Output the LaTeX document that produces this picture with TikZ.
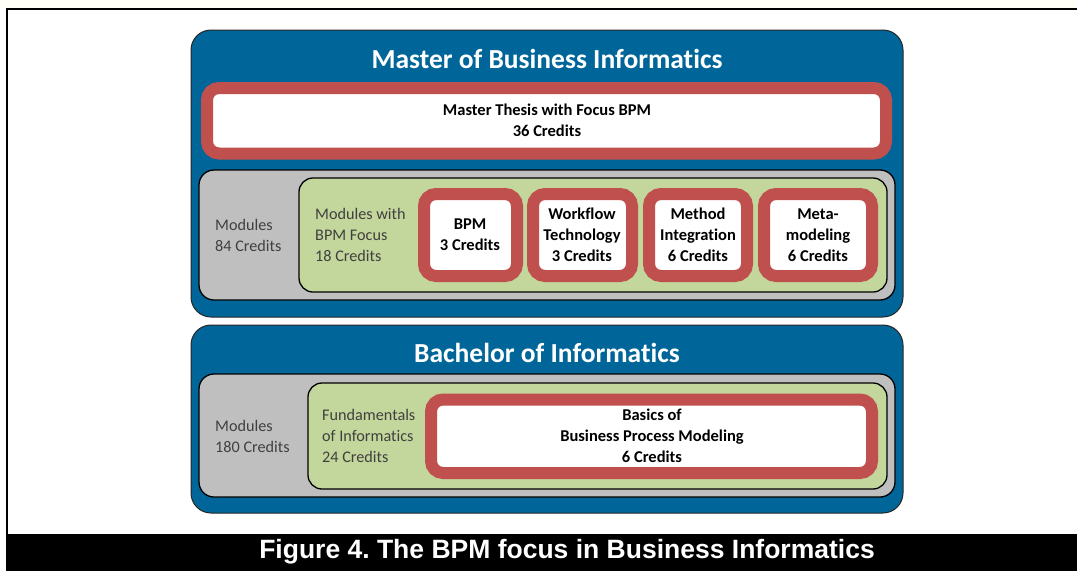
\documentclass[tikz,border=0pt]{standalone}
\usepackage{fontspec}
\setmainfont{Carlito}[Ligatures=CommonOff]
\newfontfamily\capfont{Liberation Sans}
\definecolor{degreeblue}{RGB}{0,102,153}
\definecolor{modgray}{RGB}{191,191,191}
\definecolor{focusgreen}{RGB}{195,214,155}
\definecolor{ringred}{RGB}{192,80,77}
\definecolor{paper}{RGB}{255,255,247}
\frenchspacing
\begin{document}
\begin{tikzpicture}[x=1pt,y=-1pt,
	degree/.style={draw=black!85,fill=degreeblue,line width=1pt,rounded corners=20pt},
	modbox/.style={draw=black,fill=modgray,line width=1.3pt,rounded corners=15pt},
	focusbox/.style={draw=black,fill=focusgreen,line width=1.3pt,rounded corners=14pt},
	ring/.style={draw=ringred,fill=white,line width=12pt,rounded corners=12pt},
	title/.style={text=white,font=\fontsize{27.5}{33}\selectfont\bfseries},
	info/.style={align=left,anchor=west,inner sep=0pt,text=black!75,font=\fontsize{16.2}{21}\selectfont},
	course/.style={align=center,inner sep=0pt,font=\fontsize{16.5}{21}\selectfont\bfseries}]
	\useasboundingbox (0,0) rectangle (1077,571);
	\fill[paper] (0,0) rectangle (1077,8);
	\draw[line width=2pt] (6.5,534)--(6.5,8.5)--(1077,8.5);
	% master
	\draw[degree] (191,30) rectangle (903,317);
	\node[title] (master) at (547,59) {Master of Business Informatics};
	\draw[ring] (207,88) rectangle (886,153.5);
	\node[course] (thesis) at (547,120) {Master Thesis with Focus BPM\\36 Credits};
	\draw[modbox] (199,170) rectangle (895,300);
	\node[info] (mmod) at (215,235) {Modules\\84 Credits};
	\draw[focusbox] (299,178) rectangle (887,292);
	\node[info] (mfocus) at (315,235) {Modules with\\BPM Focus\\18 Credits};
	\draw[ring] (424,194) rectangle (517,276);
	\node[course] (bpm) at (470,235) {BPM\\3 Credits};
	\draw[ring] (533,194) rectangle (632,276);
	\node[course] (wf) at (582,235) {Workflow\\Technology\\3 Credits};
	\draw[ring] (649,194) rectangle (747,276);
	\node[course] (mi) at (698,235) {Method\\Integration\\6 Credits};
	\draw[ring] (764,194) rectangle (872,276);
	\node[course] (meta) at (818,235) {Meta-\\modeling\\6 Credits};
	% bachelor
	\draw[degree] (191,325) rectangle (903,513);
	\node[title] (bachelor) at (547,353) {Bachelor of Informatics};
	\draw[modbox] (199,374) rectangle (895,497);
	\node[info] (bmod) at (215,436) {Modules\\180 Credits};
	\draw[focusbox] (308,383) rectangle (887,489);
	\node[info] (bfund) at (322,436) {Fundamentals\\of Informatics\\24 Credits};
	\draw[ring] (431,399.5) rectangle (872,473);
	\node[course] (basics) at (652,436) {Basics of\\Business Process Modeling\\6 Credits};
	% caption
	\fill[black] (6,534) rectangle (1077,571);
	\node[text=white,font=\capfont\bfseries\fontsize{26.5}{31}\selectfont] (caption) at (567,552) {Figure 4. The BPM focus in Business Informatics};
\end{tikzpicture}
\end{document}
